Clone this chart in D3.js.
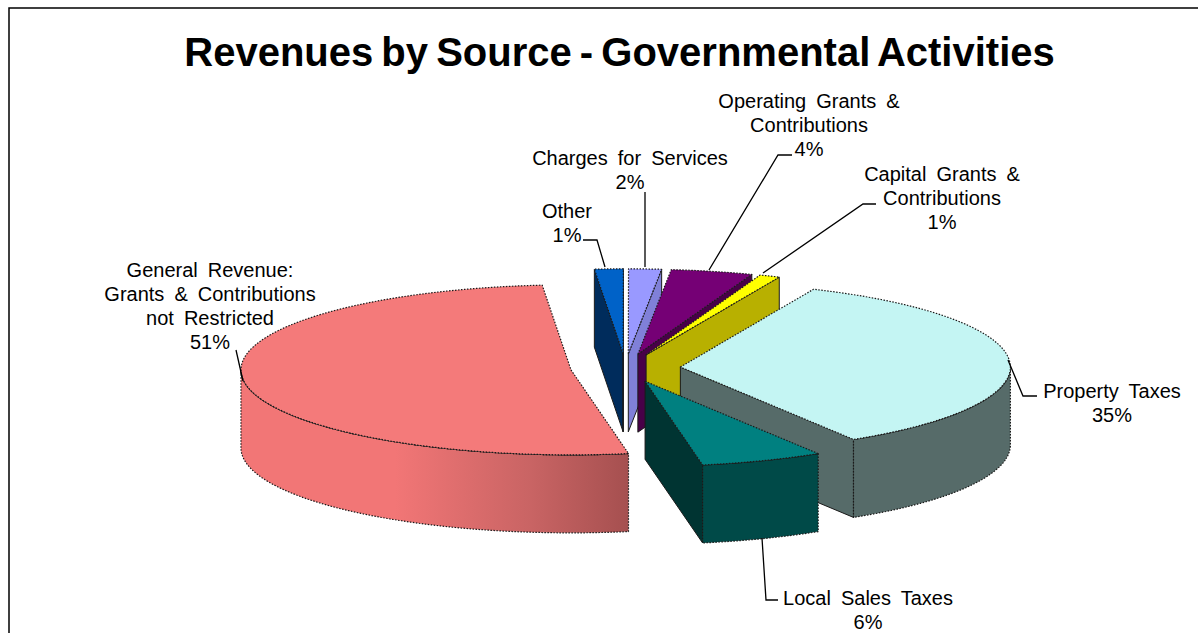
<!DOCTYPE html>
<html>
<head>
<meta charset="utf-8">
<script src="https://cdn.jsdelivr.net/npm/d3@7"></script>
<style>
html, body { margin: 0; padding: 0; background: #fff; overflow: hidden; }
text { font-family: "Liberation Sans", Arial, sans-serif; fill: #000; }
.lbl { font-size: 20px; word-spacing: 4.5px; }
</style>
</head>
<body>
<div id="chart"></div>
<script>
var title = "Revenues by Source - Governmental Activities";

// values, clockwise from the back right
var names = ["Property Taxes", "Local Sales Taxes", "General Revenue", "Other", "Charges for Services", "Operating Grants", "Capital Grants"];
var values = [34.6, 6, 51.4, 1.4, 1.6, 4, 1];
var labelLines = [
	["Property Taxes"],
	["Local Sales Taxes"],
	["General Revenue:", "Grants & Contributions", "not Restricted"],
	["Other"],
	["Charges for Services"],
	["Operating Grants &", "Contributions"],
	["Capital Grants &", "Contributions"]
];
var topColors = ["#c4f5f3", "#008080", "#f47a7a", "#0062c8", "#9999ff", "#750075", "#ffff00"];
var sideColors = ["#566b69", "#003432", "#f47a7a", "#002c5c", "#8080d8", "#480048", "#b8b000"];
var wallColors = ["#566b69", "#004a48", "url(#wall2)", "#002c5c", "#8080d8", "#480048", "#b8b000"];

var w = 1198, h = 633;
var explode = 1 / 6;
var depth = 78;
var startDeg = 23.8;

var xScale = d3.scaleLinear().domain([-1, 1]).range([295.5, 955.5]);
var yScale = d3.scaleLinear().domain([-1, 1]).range([283, 453]);

var svg = d3.select("#chart").append("svg").attr("width", w).attr("height", h);
var defs = svg.append("defs");

svg.append("rect").attr("width", w).attr("height", h).attr("fill", "#fff");
// frame runs off the right and bottom of the picture
svg.append("rect")
	.attr("x", 9).attr("y", 8).attr("width", 1300).attr("height", 800)
	.attr("fill", "none").attr("stroke", "#000").attr("stroke-width", 1.5);

svg.append("text")
	.attr("x", 619.5).attr("y", 66)
	.attr("text-anchor", "middle")
	.style("font-size", "40px")
	.style("font-weight", "bold")
	.style("word-spacing", "-3px")
	.text(title);

var pie = d3.pie().sort(null)
	.startAngle(startDeg * Math.PI / 180)
	.endAngle(startDeg * Math.PI / 180 + 2 * Math.PI);
var arcs = pie(values);

arcs.forEach(function(d, i) {
	d.i = i;
	d.mid = (d.startAngle + d.endAngle) / 2;
	d.ox = explode * Math.sin(d.mid);
	d.oy = explode * Math.cos(d.mid);
});

function pt(d, a, dz) {
	return [xScale(d.ox + Math.sin(a)), yScale(-d.oy - Math.cos(a)) + (dz || 0)];
}
function arcPts(d, a0, a1, dz) {
	var n = Math.max(2, Math.ceil((a1 - a0) * 60));
	return d3.range(n + 1).map(function(k) { return pt(d, a0 + (a1 - a0) * k / n, dz); });
}
function apex(d, dz) {
	return [xScale(d.ox), yScale(-d.oy) + (dz || 0)];
}
var line = d3.line();

// gradient on the big slice's outer wall
var grad = defs.append("linearGradient").attr("id", "wall2")
	.attr("gradientUnits", "userSpaceOnUse")
	.attr("x1", 240).attr("x2", 627).attr("y1", 0).attr("y2", 0);
grad.append("stop").attr("offset", "0.4").attr("stop-color", "#f27676");
grad.append("stop").attr("offset", "0.75").attr("stop-color", "#c96464");
grad.append("stop").attr("offset", "1").attr("stop-color", "#a65050");

// back slices first
var order = arcs.slice().sort(function(a, b) { return b.oy - a.oy; });

var gPie = svg.append("g").attr("stroke-linejoin", "round");
order.forEach(function(d) {
	var g = gPie.append("g");
	var s = ((d.startAngle % (2 * Math.PI)) + 2 * Math.PI) % (2 * Math.PI);
	var e = ((d.endAngle % (2 * Math.PI)) + 2 * Math.PI) % (2 * Math.PI);

	function radial(a) {
		var o = pt(d, a);
		g.append("path")
			.attr("d", line([apex(d), o, pt(d, a, depth), apex(d, depth)]) + "Z")
			.attr("fill", sideColors[d.i])
			.attr("stroke", "#1a1a1a").attr("stroke-width", 1);
	}
	if (s > Math.PI) radial(d.startAngle);
	if (e < Math.PI && e > 0) radial(d.endAngle);

	// outer wall, only the part facing us
	var a0 = Math.max(d.startAngle, Math.PI / 2);
	var a1 = Math.min(d.endAngle, Math.PI * 1.5);
	if (a1 > a0) {
		var topEdge = arcPts(d, a0, a1);
		var botEdge = arcPts(d, a0, a1, depth).reverse();
		g.append("path")
			.attr("d", line(topEdge.concat(botEdge)) + "Z")
			.attr("fill", wallColors[d.i])
			.attr("stroke", "#1a1a1a").attr("stroke-width", 1.2).attr("stroke-dasharray", "1.5 1.5");
		g.append("path")
			.attr("d", line(topEdge))
			.attr("fill", "none")
			.attr("stroke", "#222").attr("stroke-width", 1.1);
	}

	g.append("path")
		.attr("d", line([apex(d)].concat(arcPts(d, d.startAngle, d.endAngle))) + "Z")
		.attr("fill", topColors[d.i])
		.attr("stroke", "#1a1a1a").attr("stroke-width", 1.2).attr("stroke-dasharray", "1.5 1.5");
});

// leader lines, in the same order as names
var leaders = [
	[[1008, 360], [1023, 396], [1037, 396]],
	[[762, 538], [766, 600], [778, 600]],
	[[243, 381], [236, 350]],
	[[605, 267], [597, 240], [583, 240]],
	[[645, 267], [645, 192]],
	[[709, 270], [778, 155], [792, 155]],
	[[763, 273], [863, 204], [876, 204]]
];
svg.append("g").selectAll("path").data(leaders).enter().append("path")
	.attr("d", function(d) { return line(d); })
	.attr("fill", "none").attr("stroke", "#000").attr("stroke-width", 1.3);

// labels: [centre x, first baseline] per slice
var labelPos = [[1112, 398], [868, 604.5], [210, 277], [567, 218], [630, 165], [809, 108], [942, 181]];
var lineGap = 24;
var fmt = d3.format(".0f");
var lbl = svg.append("g");
arcs.forEach(function(d) {
	var lines = labelLines[d.i].concat([fmt(d.value) + "%"]);
	lines.forEach(function(t, k) {
		lbl.append("text")
			.attr("class", "lbl")
			.attr("x", labelPos[d.i][0])
			.attr("y", labelPos[d.i][1] + k * lineGap)
			.attr("text-anchor", "middle")
			.text(t);
	});
});
</script>
</body>
</html>
